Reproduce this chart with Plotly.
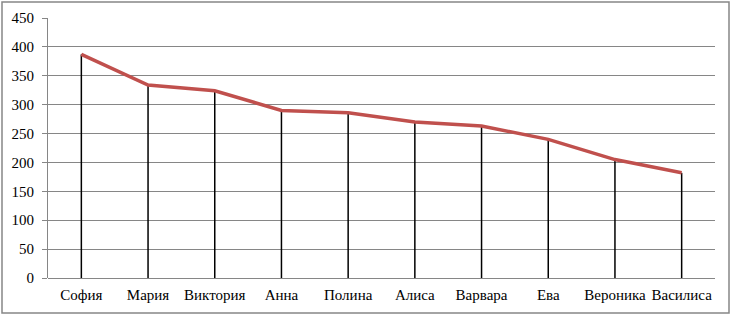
import plotly.graph_objects as go

names = ["София", "Мария", "Виктория", "Анна", "Полина", "Алиса", "Варвара", "Ева", "Вероника", "Василиса"]
counts = [387, 334, 324, 290, 286, 270, 263, 240, 205, 182]

W, H = 733, 316
L, R, T, B = 48, 18, 18, 38
pw, ph = W - L - R, H - T - B

fig = go.Figure()
# drop lines from the axis to each point
fig.add_trace(go.Scatter(
    x=names, y=counts, mode="markers",
    marker=dict(size=1, opacity=0),
    error_y=dict(type="data", symmetric=False, array=[0] * len(counts), arrayminus=counts,
                 color="black", thickness=1.5, width=0),
    hoverinfo="skip", showlegend=False,
))
fig.add_trace(go.Scatter(
    x=names, y=counts, mode="lines",
    line=dict(color="#c0504d", width=3.5),
    showlegend=False,
))

grid = "#868686"
fig.update_layout(
    width=W, height=H,
    margin=dict(l=L, r=R, t=T, b=B, autoexpand=False),
    paper_bgcolor="white", plot_bgcolor="white",
    font=dict(family="Liberation Serif", size=15, color="black"),
    xaxis=dict(type="category", range=[-0.5, len(names) - 0.5], showgrid=False,
               showline=False, ticks="", zeroline=False, automargin=False,
               ticklabelstandoff=6,
               tickfont=dict(family="Liberation Serif", size=15)),
    yaxis=dict(range=[0, 450], dtick=50, showgrid=True, gridcolor=grid, gridwidth=1,
               showline=True, linecolor=grid, linewidth=1, ticks="outside",
               ticklen=5, tickcolor=grid, zeroline=True, zerolinecolor=grid, zerolinewidth=1,
               automargin=False, ticklabelstandoff=5,
               tickfont=dict(family="Liberation Serif", size=15)),
    shapes=[dict(type="rect", xref="paper", yref="paper",
                 x0=(2 - L) / pw, x1=(729 - L) / pw,
                 y0=-(313 - (T + ph)) / ph, y1=1 + (T - 2) / ph,
                 line=dict(color=grid, width=1.5), layer="below")],
)
fig.write_html("out.html", config={"displayModeBar": False},
               post_script="document.body.style.margin='0';document.body.style.overflow='hidden';")
